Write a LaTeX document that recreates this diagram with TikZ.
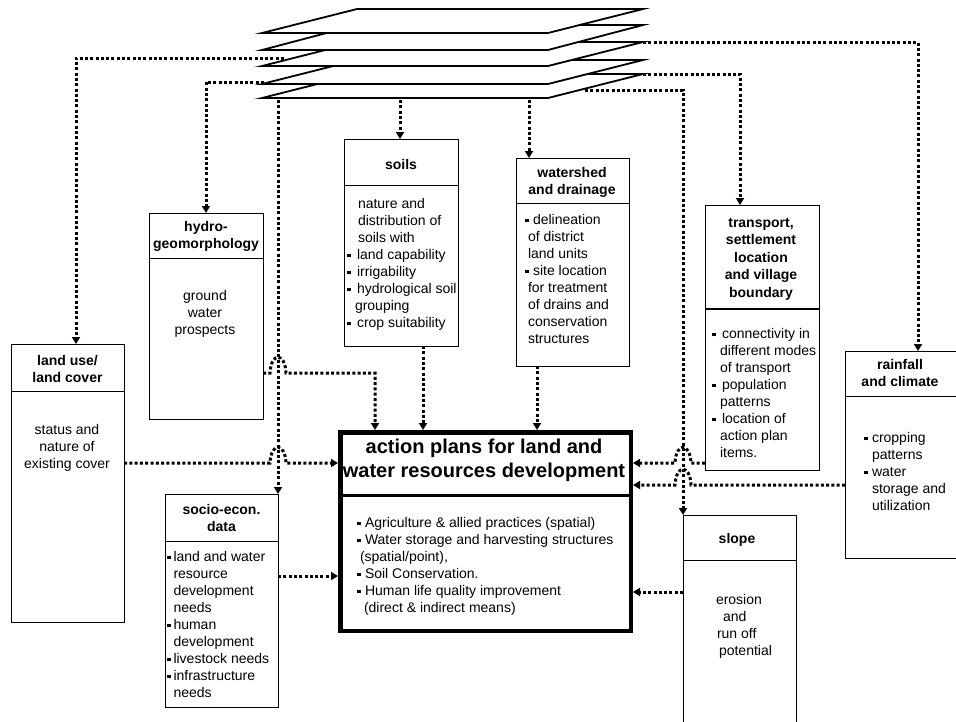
\documentclass[tikz,border=0pt]{standalone}
\usepackage{fontspec}
\setmainfont{Liberation Sans}
\usetikzlibrary{arrows.meta}
\newcommand\bul[1][10pt]{\makebox[#1][l]{\rule[1.7pt]{3.8pt}{3.8pt}}}
\newcommand\st{\rule{0pt}{12pt}}
\newcommand\stb{\rule{0pt}{17pt}}
\begin{document}
\begin{tikzpicture}[x=1pt,y=-1pt,
 box/.style={draw,line width=1pt,fill=white,inner sep=0pt,outer sep=0pt,anchor=north west},
 tx/.style={inner sep=0pt,outer sep=0pt,anchor=north west,align=left,font=\fontsize{14}{17}\selectfont},
 tc/.style={tx,anchor=north,align=center},
 tb/.style={tc,font=\bfseries\fontsize{14}{17}\selectfont},
 con/.style={line width=3pt,dash pattern=on 3pt off 2.3pt,-{Triangle[length=7pt,width=8pt]}},
 layer/.style={draw,fill=white,line width=1.8pt,line join=miter},
 div/.style={line width=1pt}
]
\useasboundingbox (0,0) rectangle (956,721);
\clip (0,0) rectangle (956,721);
\fill[white] (0,0) rectangle (956,721);

% boxes
\node[box,minimum width=113pt,minimum height=278pt] (landuse) at (11,344) {};
\draw[div] ([yshift=-47pt]landuse.north west) -- ([yshift=-47pt]landuse.north east);
\node[box,minimum width=114pt,minimum height=206pt] (hydro) at (149,213) {};
\draw[div] ([yshift=-45pt]hydro.north west) -- ([yshift=-45pt]hydro.north east);
\node[box,minimum width=114pt,minimum height=207pt] (soils) at (344,139) {};
\draw[div] ([yshift=-46pt]soils.north west) -- ([yshift=-46pt]soils.north east);
\node[box,minimum width=113pt,minimum height=208pt] (watershed) at (516,158) {};
\draw[div] ([yshift=-45pt]watershed.north west) -- ([yshift=-45pt]watershed.north east);
\node[box,minimum width=114pt,minimum height=265pt] (transport) at (705,205) {};
\draw[line width=1.8pt] ([yshift=-104pt]transport.north west) -- ([yshift=-104pt]transport.north east);
\node[box,minimum width=111pt,minimum height=207pt] (rainfall) at (845,351) {};
\draw[div] ([yshift=-45pt]rainfall.north west) -- ([yshift=-45pt]rainfall.north east);
\node[box,minimum width=113pt,minimum height=230pt] (slope) at (683,515) {};
\draw[div] ([yshift=-45pt]slope.north west) -- ([yshift=-45pt]slope.north east);
\node[box,minimum width=113pt,minimum height=213pt] (socio) at (165,494) {};
\draw[div] ([yshift=-47pt]socio.north west) -- ([yshift=-47pt]socio.north east);
\node[box,line width=4.5pt,outer sep=2.25pt,minimum width=290.5pt,minimum height=198.5pt] (action) at (338,430) {};
\draw[line width=3pt] ([yshift=-65pt]action.north west) -- ([yshift=-65pt]action.north east);

% texts
\node[tb] (landuseT) at (67.5,353) {\st land use/\\land cover};
\node[tc] (landuseB) at (67,422) {\st status and\\nature of\\existing cover};
\node[tb] (hydroT) at (206,219) {\st hydro-\\geomorphology};
\node[tc] (hydroB) at (205,288) {\st ground\\water\\prospects};
\node[tb] (soilsT) at (401,157) {\st soils};
\node[tx] (soilsB) at (347,196) {\st\hspace*{11pt}nature and\\\hspace*{11pt}distribution of\\\hspace*{11pt}soils with\\\bul land capability\\\bul irrigability\\\bul hydrological soil\\\hspace*{8pt}grouping\\\bul crop suitability};
\node[tb] (wsT) at (572,165) {\st watershed\\and drainage};
\node[tx] (wsB) at (525,212) {\st\bul[8pt]delineation\\\hspace*{3pt}of district\\\hspace*{3pt}land units\\\bul[8pt]site location\\\hspace*{3pt}for treatment\\\hspace*{3pt}of drains and\\\hspace*{3pt}conservation\\\hspace*{3pt}structures};
\node[tb,font=\bfseries\fontsize{14}{17.5}\selectfont] (trT) at (761,215) {\st transport,\\settlement\\location\\and village\\boundary};
\node[tx] (trB) at (712,326) {\st\bul connectivity in\\\hspace*{8pt}different modes\\\hspace*{8pt}of transport\\\bul population\\\hspace*{8pt}patterns\\\bul location of\\\hspace*{8pt}action plan\\\hspace*{8pt}items.};
\node[tb] (rfT) at (900,357) {\st rainfall\\and climate};
\node[tx] (rfB) at (864,430) {\st\bul[8pt]cropping\\\hspace*{8pt}patterns\\\bul[8pt]water\\\hspace*{8pt}storage and\\\hspace*{8pt}utilization};
\node[tb] (slT) at (737,531) {\st slope};
\node[tx] (slB) at (716,592) {\st erosion\\\hspace*{7pt}and\\\hspace*{1pt}run off\\\hspace*{3pt}potential};
\node[tb] (soT) at (221.5,502) {\st socio-econ.\\data};
\node[tx] (soB) at (167,549) {\st\bul[6.5pt]land and water\\\hspace*{6.5pt}resource\\\hspace*{6.5pt}development\\\hspace*{6.5pt}needs\\\bul[6.5pt]human\\\hspace*{6.5pt}development\\\bul[6.5pt]livestock needs\\\bul[6.5pt]infrastructure\\\hspace*{6.5pt}needs};
\node[tc,font=\bfseries\fontsize{20}{24}\selectfont] (acT) at (484,436.5) {\stb action plans for land and\\water resources development};
\node[tx] (acB) at (357,515) {\st\bul[8pt]Agriculture \& allied practices (spatial)\\\bul[8pt]Water storage and harvesting structures\\\hspace*{3pt}(spatial/point),\\\bul[8pt]Soil Conservation.\\\bul[8pt]Human life quality improvement\\\hspace*{7pt}(direct \& indirect means)};

% helper coordinates
\coordinate (r373) at (0,373);
\coordinate (r463) at (0,463);
\coordinate (r485) at (0,485);
\coordinate (r576) at (0,576);
\coordinate (r592) at (0,592);
\coordinate (c375) at (375,0);
\coordinate (c423) at (423,0);
\coordinate (c537) at (537,0);
\coordinate (cLU) at (76,0);
\coordinate (cTR) at (740,0);
\coordinate (cRF) at (918,0);
\coordinate (lyLU) at (284,58);
\coordinate (lyHY) at (264,82);
\coordinate (lySO) at (278,100);
\coordinate (lySL) at (400,100);
\coordinate (lyWS) at (529,100);
\coordinate (lyTR) at (643,74);
\coordinate (lyRF) at (643,42);
\coordinate (lySP) at (585,90);

% connectors from the layers
\draw[con] (lyLU) -| (cLU |- landuse.north);
\draw[con] (lyHY) -| (hydro.north);
\draw[con] (lySO) -- (socio.north east);
\draw[con] (lySL) -- (lySL |- soils.north);
\draw[con] (lyWS) -- (lyWS |- watershed.north);
\draw[con] (lyTR) -| (cTR |- transport.north);
\draw[con] (lyRF) -| (cRF |- rainfall.north);
\draw[con] (lySP) -| (slope.north west);

% connectors into the action box
\draw[con] (hydro.east |- r373) -- (270,373) .. controls (271,352) and (285,352) .. (286,373) -- (c375 |- r373) -- (c375 |- action.north);
\draw[con] (landuse.east |- r463) -- (270,463) .. controls (271,442) and (285,442) .. (286,463) -- (action.west |- r463);
\draw[con] (socio.east |- r576) -- (action.west |- r576);
\draw[con] (transport.west |- r463) -- (691,463) .. controls (690,442) and (676,442) .. (675,463) -- (action.east |- r463);
\draw[con] (rainfall.west |- r485) -- (691,485) .. controls (690,464) and (676,464) .. (675,485) -- (action.east |- r485);
\draw[con] (slope.west |- r592) -- (action.east |- r592);
\draw[con] (c423 |- soils.south) -- (c423 |- action.north);
\draw[con] (c537 |- watershed.south) -- (c537 |- action.north);

% stack of layers
\foreach \b/\t in {98/74,84/60,66/42,50/25,33/9}
  \draw[layer] (262,\b) -- (548,\b) -- (643,\t) -- (357,\t) -- cycle;
\end{tikzpicture}
\end{document}
